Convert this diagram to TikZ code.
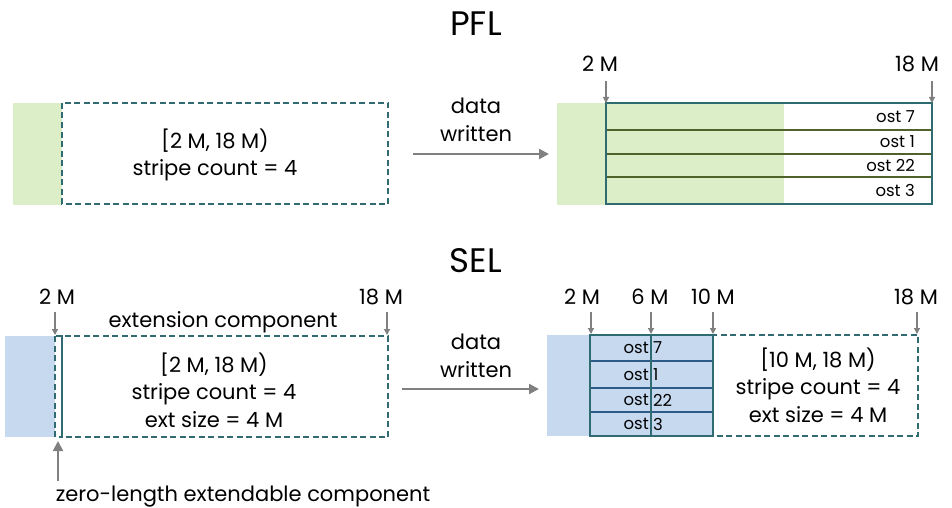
\documentclass[tikz,border=0pt]{standalone}
\usepackage{fontspec}
\setmainfont{Poppins}
\usetikzlibrary{arrows.meta}
\definecolor{pflgreen}{HTML}{DCEEC8}
\definecolor{selblue}{HTML}{C6D9EF}
\definecolor{edgeteal}{HTML}{2F6B70}
\definecolor{stripegreen}{HTML}{4F6228}
\definecolor{stripeblue}{HTML}{2E5A8A}
\definecolor{tickgray}{HTML}{808080}
\tikzset{
  dashbox/.style={draw=edgeteal, line width=1.3pt, dash pattern=on 6pt off 3.5pt},
  fullbox/.style={draw=edgeteal, line width=1.3pt},
  tick/.style={draw=tickgray, line width=1.3pt, -{Triangle[length=6pt,width=6pt]}},
  flow/.style={draw=tickgray, line width=2.2pt, -{Triangle[length=10pt,width=10pt]}},
  offset/.style={font=\fontsize{21}{24}\selectfont, inner sep=1pt},
  info/.style={align=center, font=\fontsize{21}{27.5}\selectfont},
  ostlbl/.style={font=\fontsize{16.5}{18}\selectfont, inner sep=1pt},
  heading/.style={font=\fontsize{34}{36}\selectfont}
}
\begin{document}
\begin{tikzpicture}[x=1pt,y=-1pt]
    \useasboundingbox (0,0) rectangle (952,508);

    % PFL
    \node[heading] (pfl) at (476,24) {PFL};

    \fill[pflgreen] (13,103) rectangle (62,205);
    \draw[dashbox] (62,103) rectangle (388,204);
    \node[info] (pfltxt) at (215,155) {[2 M, 18 M)\\stripe count = 4};

    \node[info] (pflflow) at (476,120) {data\\written};
    \coordinate (pflfrom) at (413,154);
    \coordinate (pflto) at (549,154);
    \draw[flow] (pflfrom) -- (pflto);

    \fill[pflgreen] (557,103) rectangle (606,205);
    \fill[pflgreen] (606,103) rectangle (784,204);
    \draw[stripegreen, line width=2pt] (606,130) -- (932,130);
    \draw[stripegreen, line width=2pt] (606,154) -- (932,154);
    \draw[stripegreen, line width=2pt] (606,177) -- (932,177);
    \draw[fullbox] (606,103) rectangle (932,204);
    \node[ostlbl, anchor=east] (p7) at (916,117) {ost 7};
    \node[ostlbl, anchor=east] (p1) at (916,142) {ost 1};
    \node[ostlbl, anchor=east] (p22) at (916,166) {ost 22};
    \node[ostlbl, anchor=east] (p3) at (916,190) {ost 3};

    \node[offset] (pa) at (600,64) {2 M};
    \node[offset] (pb) at (917,64) {18 M};
    \coordinate (pat) at (606,103);
    \coordinate (pbt) at (932,103);
    \draw[tick] (pat |- 0,81) -- (pat);
    \draw[tick] (pbt |- 0,81) -- (pbt);

    % SEL
    \node[heading] (sel) at (476,261) {SEL};

    \fill[selblue] (5,336) rectangle (55,437);
    \draw[dashbox] (62,336) rectangle (388,437);
    \draw[dashbox] (55,336) rectangle (62,437);
    \node[info] (seltxt) at (214,390) {[2 M, 18 M)\\stripe count = 4\\ext size = 4 M};
    \node[offset] (ext) at (223,322) {extension component};

    \node[offset] (sa) at (57,297) {2 M};
    \node[offset] (sb) at (381,297) {18 M};
    \coordinate (sat) at (55,335);
    \coordinate (sbt) at (387,335);
    \draw[tick] (sat |- 0,312) -- (sat);
    \draw[tick] (sbt |- 0,312) -- (sbt);

    \node[offset] (zero) at (243,497) {zero-length extendable component};
    \coordinate (zt) at (58,441);
    \draw[tick, line width=2pt, -{Triangle[length=10pt,width=10pt]}] (zt |- 0,481) -- (zt);

    \node[info] (selflow) at (476,356) {data\\written};
    \coordinate (selfrom) at (402,389);
    \coordinate (selto) at (539,389);
    \draw[flow] (selfrom) -- (selto);

    \fill[selblue] (547,335) rectangle (590,436);
    \fill[selblue] (590,335) rectangle (713,436);
    \draw[stripeblue, line width=1.8pt] (590,361) -- (713,361);
    \draw[stripeblue, line width=1.8pt] (590,388) -- (713,388);
    \draw[stripeblue, line width=1.8pt] (590,412) -- (713,412);
    \draw[edgeteal, line width=1.3pt] (651,335) -- (651,436);
    \draw[dashbox] (713,335) rectangle (918,436);
    \draw[fullbox] (590,335) rectangle (713,436);
    \foreach \num/\ypos in {7/348, 1/375, 22/400, 3/424} {
        \node[ostlbl, anchor=east] (so\num) at (650,\ypos) {ost};
        \node[ostlbl, anchor=west] (sn\num) at (652,\ypos) {\num};
    }
    \node[info] (resttxt) at (818,385) {[10 M, 18 M)\\stripe count = 4\\ext size = 4 M};

    \node[offset] (ra) at (582,297) {2 M};
    \node[offset] (rb) at (650,297) {6 M};
    \node[offset] (rc) at (713,297) {10 M};
    \node[offset] (rd) at (916,297) {18 M};
    \coordinate (rat) at (591,334);
    \coordinate (rbt) at (651,334);
    \coordinate (rct) at (713,334);
    \coordinate (rdt) at (917,334);
    \foreach \c in {rat, rbt, rct, rdt}
        \draw[tick] (\c |- 0,312) -- (\c);
\end{tikzpicture}
\end{document}
